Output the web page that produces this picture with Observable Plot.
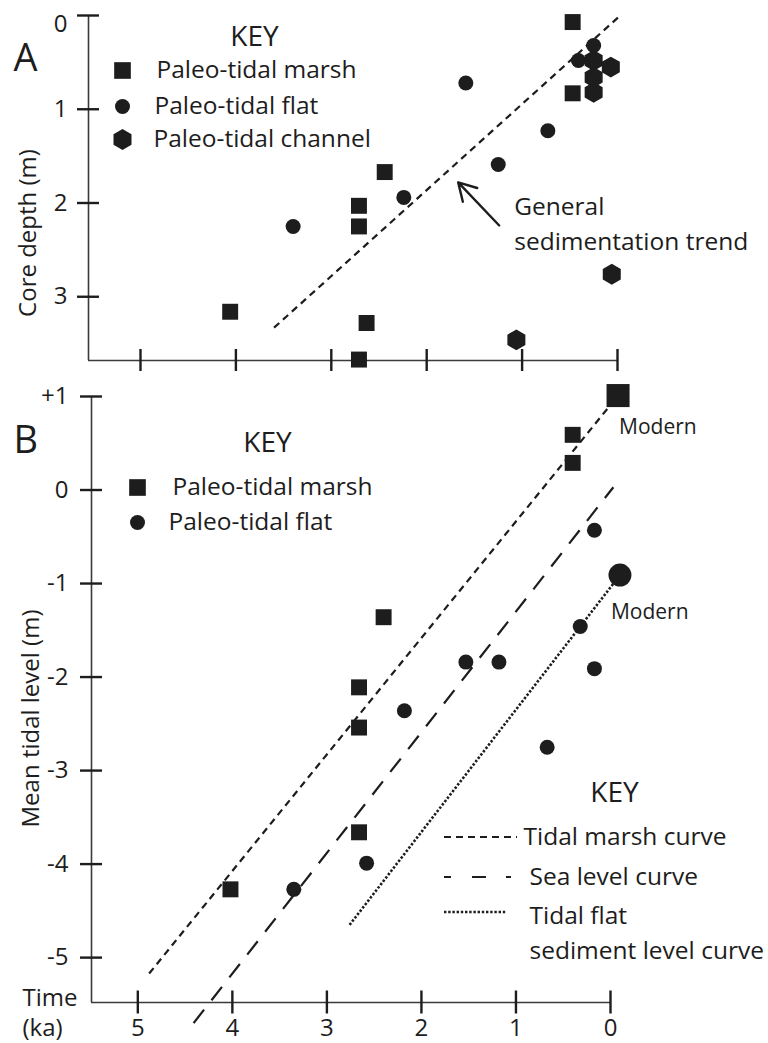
<!DOCTYPE html>
<html>
<head>
<meta charset="utf-8">
<script src="https://cdn.jsdelivr.net/npm/d3@7"></script>
<script src="https://cdn.jsdelivr.net/npm/@observablehq/plot@0.6"></script>
<style>
  body { margin: 0; background: #fff; }
  #chart { width: 768px; }
  #chart svg { display: block; }
</style>
</head>
<body>
<div id="chart"></div>
<script>
// ---------------- DATA ----------------
// shared time axis (ka)
const timeTicks = [5, 4, 3, 2, 1, 0];
const timeTickLabels = ["5", "4", "3", "2", "1", "0"];

// Panel A: core depth (m)
const depthTicks = [0, 1, 2, 3];
const depthTickLabels = ["0", "1", "2", "3"];
const aTimeDomain = [5.545, 0];
const aDepthDomain = [0, 3.68];

const aMarshTime  = [4.06, 2.71, 2.71, 2.63, 2.71, 2.44, 0.47, 0.47];
const aMarshDepth = [3.16, 2.03, 2.25, 3.28, 3.67, 1.67, 0.07, 0.83];
const aFlatTime   = [3.40, 1.59, 0.73, 1.25, 2.24, 0.25, 0.41];
const aFlatDepth  = [2.25, 0.72, 1.23, 1.59, 1.94, 0.32, 0.48];
const aChannelTime  = [0.25, 0.07, 0.25, 0.25, 0.06, 1.06];
const aChannelDepth = [0.48, 0.55, 0.66, 0.82, 2.76, 3.46];
const aTrendTime  = [3.60, -0.04];
const aTrendDepth = [3.33, -0.01];
const aArrowTime  = [1.24, 1.67];
const aArrowDepth = [2.24, 1.78];

// Panel B: mean tidal level (m)
const levelTicks = [1, 0, -1, -2, -3, -4, -5];
const levelTickLabels = ["+1", "0", "-1", "-2", "-3", "-4", "-5"];
const bTimeDomain = [5.49, 0];
const bLevelDomain = [-5.48, 1];

const bMarshTime  = [0.40, 0.40, 2.40, 2.66, 2.66, 2.66, 4.02];
const bMarshLevel = [0.59, 0.29, -1.36, -2.11, -2.54, -3.66, -4.27];
const bFlatTime   = [0.17, 0.32, 1.53, 1.18, 0.17, 2.18, 0.67, 2.58, 3.35];
const bFlatLevel  = [-0.43, -1.46, -1.84, -1.84, -1.91, -2.36, -2.75, -3.99, -4.27];
const bModernMarshTime = [-0.08], bModernMarshLevel = [1.01];
const bModernFlatTime  = [-0.10], bModernFlatLevel  = [-0.91];

const curveNames = ["Tidal marsh curve", "Sea level curve", "Tidal flat\nsediment level curve"];
const marshCurveTime  = [4.88, -0.08];
const marshCurveLevel = [-5.17, 1.01];
const seaCurveTime    = [4.41, -0.03];
const seaCurveLevel   = [-5.70, 0.03];
const flatCurveTime   = [2.76, -0.10];
const flatCurveLevel  = [-4.65, -0.91];

// ---------------- HELPERS ----------------
const zipA = (t, d) => t.map((v, i) => ({time: v, depth: d[i]}));
const zipB = (t, l) => t.map((v, i) => ({time: v, level: l[i]}));
const FONT = "'Open Sans', sans-serif";
const INK = "#1d1d1d";
const AXIS = "#3a3a3a";
const FS = 24.5;   // legend / annotation text
const TFS = 24;    // tick labels, axis titles
const KFS = 28;    // "KEY" headings

const curveStyles = [
  {dash: "7,5", width: 2.2, legendDash: "7,5", legendLen: 73},
  {dash: "17,12", width: 2.2, legendDash: "7,21,14,20,5,100", legendLen: 67},
  {dash: "2.4,1.8", width: 2.6, legendDash: "2.4,1.8", legendLen: 63}
];

const lbl = (s, o) => Plot.text([s], {frameAnchor: "top-left", text: d => d, lineAnchor: "middle",
  textAnchor: "start", fontSize: FS, fill: INK, ...o});

// ---------------- PANEL A ----------------
const plotA = Plot.plot({
  width: 768, height: 380,
  marginTop: 15, marginBottom: 20, marginLeft: 88, marginRight: 151,
  x: {domain: aTimeDomain, label: null},
  y: {domain: aDepthDomain, reverse: true, label: null},
  style: {fontFamily: FONT, fontSize: FS + "px", color: INK, background: "#fff", overflow: "visible"},
  marks: [
    Plot.ruleX([aTimeDomain[0]], {stroke: AXIS, strokeWidth: 1.6}),
    Plot.ruleY([aDepthDomain[1]], {stroke: AXIS, strokeWidth: 1.6}),
    Plot.axisY({ticks: depthTicks, tickFormat: () => "",
      tickSize: 22, dx: 11, strokeWidth: 2.4, color: INK, label: null}),
    Plot.text(depthTicks.slice(0, 1), {y: d => d, text: d => depthTickLabels[depthTicks.indexOf(d)],
      frameAnchor: "left", textAnchor: "end", lineAnchor: "middle", dx: -21, dy: 9, fontSize: TFS, fill: INK}),
    Plot.text(depthTicks.slice(1), {y: d => d, text: d => depthTickLabels[depthTicks.indexOf(d)],
      frameAnchor: "left", textAnchor: "end", lineAnchor: "middle", dx: -21, fontSize: TFS, fill: INK}),
    Plot.axisX({ticks: timeTicks, tickFormat: () => "", tickSize: 22, dy: -11, strokeWidth: 2.4, color: INK, label: null}),
    Plot.text(["Core depth (m)"], {frameAnchor: "left", text: d => d, rotate: -90, textAnchor: "middle", lineAnchor: "middle",
      dx: -60, dy: 45, fontSize: TFS, fill: INK}),
    lbl("A", {dx: -75, dy: 43, fontSize: 38}),
    // legend
    lbl("KEY", {dx: 166, dy: 22, textAnchor: "middle", fontSize: KFS}),
    Plot.dot([0], {frameAnchor: "top-left", dx: 34, dy: 55, symbol: "square", r: 9.4, fill: INK}),
    lbl("Paleo-tidal marsh", {dx: 68, dy: 55}),
    Plot.dot([0], {frameAnchor: "top-left", dx: 34, dy: 91, symbol: "circle", r: 7.5, fill: INK}),
    lbl("Paleo-tidal flat", {dx: 66, dy: 91}),
    Plot.dot([0], {frameAnchor: "top-left", dx: 34, dy: 124, symbol: "hexagon", r: 9, fill: INK}),
    lbl("Paleo-tidal channel", {dx: 65, dy: 124}),
    // trend
    Plot.line(zipA(aTrendTime, aTrendDepth), {x: "time", y: "depth", stroke: INK, strokeWidth: 2.2,
      strokeDasharray: "7,5", strokeLinecap: "butt"}),
    Plot.arrow([{x1: aArrowTime[0], y1: aArrowDepth[0], x2: aArrowTime[1], y2: aArrowDepth[1]}],
      {x1: "x1", y1: "y1", x2: "x2", y2: "y2", stroke: INK, strokeWidth: 2.4, headLength: 13}),
    Plot.text([{x: aArrowTime[0], y: aArrowDepth[0]}], {x: "x", y: "y", text: () => "General\nsedimentation trend",
      textAnchor: "start", lineAnchor: "middle", lineHeight: 1.4, dx: 15, dy: -4, fontSize: FS, fill: INK}),
    // points
    Plot.dot(zipA(aMarshTime, aMarshDepth), {x: "time", y: "depth", symbol: "square", r: 9, fill: INK}),
    Plot.dot(zipA(aFlatTime, aFlatDepth), {x: "time", y: "depth", symbol: "circle", r: 7.5, fill: INK}),
    Plot.dot(zipA(aChannelTime, aChannelDepth), {x: "time", y: "depth", symbol: "hexagon", r: 9, fill: INK})
  ]
});

// ---------------- PANEL B ----------------
function legendLines(index, scales, values, dims) {
  const left = dims ? dims.marginLeft : 91;
  const top = dims ? dims.marginTop : 16;
  const g = d3.create("svg:g").attr("fill", "none").attr("stroke", INK);
  const ys = [441, 481, 516];
  curveStyles.forEach((s, i) => {
    g.append("line")
      .attr("x1", left + 353).attr("x2", left + 353 + s.legendLen)
      .attr("y1", top + ys[i]).attr("y2", top + ys[i])
      .attr("stroke-width", s.width).attr("stroke-dasharray", s.legendDash);
  });
  return g.node();
}

const plotB = Plot.plot({
  width: 768, height: 663,
  marginTop: 16, marginBottom: 41, marginLeft: 91, marginRight: 158,
  x: {domain: bTimeDomain, label: null},
  y: {domain: bLevelDomain, label: null},
  style: {fontFamily: FONT, fontSize: FS + "px", color: INK, background: "#fff", overflow: "visible"},
  marks: [
    Plot.ruleX([bTimeDomain[0]], {stroke: AXIS, strokeWidth: 1.6}),
    Plot.ruleY([bLevelDomain[0]], {stroke: AXIS, strokeWidth: 1.6}),
    Plot.axisY({ticks: levelTicks, tickFormat: d => levelTickLabels[levelTicks.indexOf(d)],
      tickSize: 22, dx: 11, tickPadding: 12, strokeWidth: 2.4, color: INK, fontSize: TFS, label: null}),
    Plot.axisX({ticks: timeTicks, tickFormat: d => timeTickLabels[timeTicks.indexOf(d)],
      tickSize: 23, dy: -11.5, tickPadding: 5, strokeWidth: 2.4, color: INK, fontSize: TFS, label: null}),
    Plot.text(["Mean tidal level (m)"], {frameAnchor: "left", text: d => d, rotate: -90, textAnchor: "middle", lineAnchor: "middle",
      dx: -60, dy: 19, fontSize: TFS, fill: INK}),
    Plot.text(["Time"], {frameAnchor: "bottom-left", text: d => d, textAnchor: "start", lineAnchor: "middle",
      dx: -69, dy: -4, fontSize: TFS, fill: INK}),
    Plot.text(["(ka)"], {frameAnchor: "bottom-left", text: d => d, textAnchor: "start", lineAnchor: "middle",
      dx: -69, dy: 26, fontSize: TFS, fill: INK}),
    lbl("B", {dx: -78, dy: 44, fontSize: 38}),
    // top legend
    lbl("KEY", {dx: 176, dy: 47, textAnchor: "middle", fontSize: KFS}),
    Plot.dot([0], {frameAnchor: "top-left", dx: 46, dy: 91, symbol: "square", r: 9.4, fill: INK}),
    lbl("Paleo-tidal marsh", {dx: 81, dy: 91}),
    Plot.dot([0], {frameAnchor: "top-left", dx: 46, dy: 126, symbol: "circle", r: 7.5, fill: INK}),
    lbl("Paleo-tidal flat", {dx: 77, dy: 126}),
    // curves
    Plot.line(zipB(marshCurveTime, marshCurveLevel), {x: "time", y: "level", stroke: INK, strokeWidth: curveStyles[0].width,
      strokeDasharray: curveStyles[0].dash, strokeLinecap: "butt"}),
    Plot.line(zipB(seaCurveTime, seaCurveLevel), {x: "time", y: "level", stroke: INK, strokeWidth: curveStyles[1].width,
      strokeDasharray: curveStyles[1].dash, strokeLinecap: "butt"}),
    Plot.line(zipB(flatCurveTime, flatCurveLevel), {x: "time", y: "level", stroke: INK, strokeWidth: curveStyles[2].width,
      strokeDasharray: curveStyles[2].dash, strokeLinecap: "butt"}),
    // points
    Plot.dot(zipB(bMarshTime, bMarshLevel), {x: "time", y: "level", symbol: "square", r: 9, fill: INK}),
    Plot.dot(zipB(bFlatTime, bFlatLevel), {x: "time", y: "level", symbol: "circle", r: 7.5, fill: INK}),
    Plot.dot(zipB(bModernMarshTime, bModernMarshLevel), {x: "time", y: "level", symbol: "square", r: 13, fill: INK}),
    Plot.dot(zipB(bModernFlatTime, bModernFlatLevel), {x: "time", y: "level", symbol: "circle", r: 11.5, fill: INK}),
    Plot.text(zipB(bModernMarshTime, bModernMarshLevel), {x: "time", y: "level", text: () => "Modern", textAnchor: "start",
      dx: 1, dy: 32, fontSize: 21, fill: INK}),
    Plot.text(zipB(bModernFlatTime, bModernFlatLevel), {x: "time", y: "level", text: () => "Modern", textAnchor: "start",
      dx: -9, dy: 37, fontSize: 21, fill: INK}),
    // bottom legend
    lbl("KEY", {dx: 523, dy: 397, textAnchor: "middle", fontSize: KFS}),
    legendLines,
    lbl(curveNames[0], {dx: 432, dy: 441}),
    lbl(curveNames[1], {dx: 438, dy: 481}),
    lbl(curveNames[2], {dx: 438, dy: 533.5, lineHeight: 1.43})
  ]
});

const chart = document.getElementById("chart");
chart.appendChild(plotA);
chart.appendChild(plotB);
</script>
</body>
</html>
